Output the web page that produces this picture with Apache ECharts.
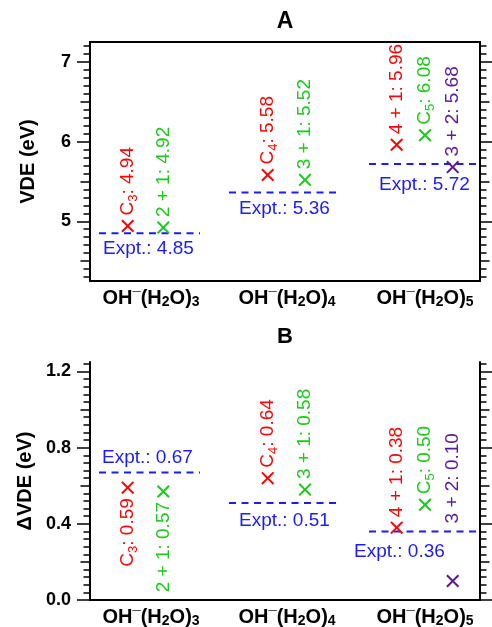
<!DOCTYPE html>
<html>
<head>
<meta charset="utf-8">
<script src="https://cdn.jsdelivr.net/npm/echarts@6/dist/echarts.min.js"></script>
<style>
html, body { margin: 0; padding: 0; background: #fff; }
#chart { width: 492px; height: 627px; }
</style>
</head>
<body>
<div id="chart"></div>
<script>
// clusters (x axis)
const clusters = ['OH{sup|¯}(H{sub|2}O){sub|3}', 'OH{sup|¯}(H{sub|2}O){sub|4}', 'OH{sup|¯}(H{sub|2}O){sub|5}'];
const clusterX = [6.1, 19.7, 33.5];

// calculated isomers, by colour
const redNames = ['C{sub|3}', 'C{sub|4}', '4 + 1'];
const redX = [3.77, 17.77, 30.67];
const redVDE = [4.94, 5.58, 5.96];
const redDVDE = [0.59, 0.64, 0.38];

const greenNames = ['2 + 1', '3 + 1', 'C{sub|5}'];
const greenX = [7.33, 21.5, 33.5];
const greenVDE = [4.92, 5.52, 6.08];
const greenDVDE = [0.57, 0.58, 0.50];

const purpleNames = ['3 + 2'];
const purpleX = [36.27];
const purpleVDE = [5.68];
const purpleDVDE = [0.10];

// experiment
const exptVDE = [4.85, 5.36, 5.72];
const exptDVDE = [0.67, 0.51, 0.36];
const exptRange = [[0.9, 11.0], [13.9, 25.0], [27.9, 39]];

// ticks
const ticksA = [5, 6, 7];
const ticksB = [0, 0.4, 0.8, 1.2];

const FONT = 'Liberation Sans, Arial, Helvetica, sans-serif';
const RED = '#f20a0a', GREEN = '#1ec81e', PURPLE = '#5a1a9c', BLUE = '#1c1cf5';
const X_MAX = 39;
const CROSS = 'path://M0,1.1L1.1,0L5,3.9L8.9,0L10,1.1L6.1,5L10,8.9L8.9,10L5,6.1L1.1,10L0,8.9L3.9,5Z';

function steps(from, to, step) {
    let out = [];
    for (let v = from; v <= to + 1e-9; v += step) out.push(Math.round(v * 1000) / 1000);
    return out;
}

const subStyle = (size, weight, pad) => ({
    fontSize: size, fontWeight: weight, fontFamily: FONT, padding: [pad, 0, 0, 0], verticalAlign: 'bottom'
});
const supStyle = (size, weight) => ({
    fontSize: size, fontWeight: weight, fontFamily: FONT, verticalAlign: 'middle'
});

// y axes: left/right, major / medium / minor ticks
function yAxes(g, min, max, major, medium, minor, name, fmt) {
    let list = [];
    ['left', 'right'].forEach(pos => {
        [[major, 13], [medium, 9.5], [minor, 6.5]].forEach(([vals, len], k) => {
            const main = pos === 'left' && k === 0;
            list.push({
                type: 'value', gridIndex: g, min: min, max: max, position: pos,
                name: main ? name : '',
                nameLocation: 'middle', nameGap: 52,
                nameTextStyle: { fontSize: 20, fontWeight: 'bold', fontFamily: FONT, color: '#000' },
                splitLine: { show: false },
                axisLine: { show: k === 0, lineStyle: { color: '#000', width: 2 } },
                axisTick: { show: true, customValues: vals, length: len, lineStyle: { color: '#000', width: 1.5 } },
                axisLabel: {
                    show: main, customValues: major, formatter: fmt, margin: 19,
                    fontSize: 18, fontWeight: 'bold', fontFamily: FONT, color: '#000'
                }
            });
        });
    });
    return list;
}

function xAxes(g) {
    return [{
        type: 'value', gridIndex: g, min: 0, max: X_MAX, position: 'bottom',
        splitLine: { show: false }, axisTick: { show: false },
        axisLine: { lineStyle: { color: '#000', width: 2 } },
        axisLabel: {
            customValues: clusterX, margin: 6,
            formatter: (v, i) => clusters[i] !== undefined ? clusters[i] : clusters[clusterX.indexOf(v)],
            fontSize: 20, fontWeight: 'bold', fontFamily: FONT, color: '#000',
            rich: { sub: subStyle(14, 'bold', 8), sup: supStyle(15, 'bold') }
        }
    }, {
        type: 'value', gridIndex: g, min: 0, max: X_MAX, position: 'top',
        splitLine: { show: false }, axisTick: { show: false }, axisLabel: { show: false },
        axisLine: { lineStyle: { color: '#000', width: 2 } }
    }];
}

function points(g, yIdx, xs, vs, names, color, itemLabels) {
    return {
        type: 'scatter', xAxisIndex: g * 2, yAxisIndex: yIdx, z: 5,
        symbol: CROSS, symbolSize: 13,
        itemStyle: { color: color, opacity: 1 },
        label: {
            show: true, rotate: 90, position: 'top', align: 'left', verticalAlign: 'middle', distance: 4,
            color: color, opacity: 1, fontSize: 19, fontFamily: FONT,
            formatter: p => p.name + ': ' + p.value[1].toFixed(2),
            rich: { sub: Object.assign(subStyle(13, 'normal', 11), { color: color }) }
        },
        data: xs.map((x, i) => Object.assign({ value: [x, vs[i]], name: names[i] },
            itemLabels && itemLabels[i] ? { label: itemLabels[i] } : {}))
    };
}

function expt(g, yIdx, vals, offsets) {
    let list = vals.map((v, i) => ({
        type: 'line', xAxisIndex: g * 2, yAxisIndex: yIdx, z: 3,
        symbol: 'none', silent: true,
        lineStyle: { color: BLUE, width: 2, type: [7, 5.5] },
        data: [[exptRange[i][0], v], [exptRange[i][1], v]]
    }));
    list.push({
        type: 'scatter', xAxisIndex: g * 2, yAxisIndex: yIdx, symbolSize: 0, silent: true,
        itemStyle: { opacity: 1 },
        label: {
            show: true, position: 'right', distance: 0, color: BLUE, opacity: 1, fontSize: 19, fontFamily: FONT,
            formatter: p => 'Expt.: ' + p.value[1].toFixed(2)
        },
        data: vals.map((v, i) => ({ value: [exptRange[i][0], v], label: { offset: offsets[i] } }))
    });
    return list;
}

const below = { position: 'bottom', align: 'right' };

const option = {
    animation: false,
    backgroundColor: '#fff',
    title: [
        { text: 'A', left: 285, top: 10, textAlign: 'center', padding: 0,
          textStyle: { fontSize: 23, fontWeight: 'bold', fontFamily: FONT, color: '#000' } },
        { text: 'B', left: 285, top: 326, textAlign: 'center', padding: 0,
          textStyle: { fontSize: 22, fontWeight: 'bold', fontFamily: FONT, color: '#000' } }
    ],
    grid: [
        { left: 90, top: 42, width: 390, height: 239, outerBoundsMode: 'none' },
        { left: 90, top: 362, width: 390, height: 238, outerBoundsMode: 'none' }
    ],
    xAxis: xAxes(0).concat(xAxes(1)),
    yAxis: yAxes(0, 4.25, 7.25, ticksA, [4.5, 5.5, 6.5], steps(4.3, 7.2, 0.1), 'VDE (eV)', v => String(v))
        .concat(yAxes(1, 0, 1.25, ticksB, [0.2, 0.6, 1.0], steps(0, 1.24, 0.04), 'ΔVDE (eV)', v => v.toFixed(1))),
    series: [].concat(
        expt(0, 0, exptVDE, [[4, 16], [10, 16], [10, 21]]),
        points(0, 0, redX, redVDE, redNames, RED),
        points(0, 0, greenX, greenVDE, greenNames, GREEN),
        points(0, 0, purpleX, purpleVDE, purpleNames, PURPLE),
        expt(1, 6, exptDVDE, [[3, -14.5], [10, 18], [-15, 20.7]]),
        points(1, 6, redX, redDVDE, redNames, RED, [below]),
        points(1, 6, greenX, greenDVDE, greenNames, GREEN, [below]),
        points(1, 6, purpleX, purpleDVDE, purpleNames, PURPLE, [{ distance: 51 }])
    )
};

const chart = echarts.init(document.getElementById('chart'));
chart.setOption(option);
</script>
</body>
</html>
